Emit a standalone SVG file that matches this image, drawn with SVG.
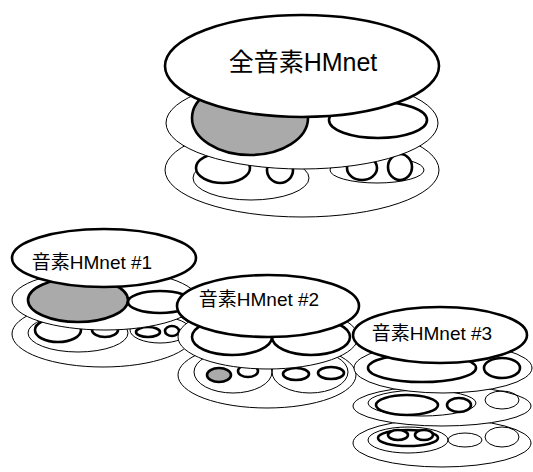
<svg xmlns="http://www.w3.org/2000/svg" width="533" height="472" viewBox="0 0 533 472">
<style>
.lay{fill:#fff;stroke:#000;stroke-width:1}
.in{fill:none;stroke:#000;stroke-width:1}
.tk{fill:#fff;stroke:#000;stroke-width:2.6}
.sh{fill:#aaaaaa;stroke:#000;stroke-width:2.6}
.top{fill:#fff;stroke:#000;stroke-width:2.6}
.lbl{font-family:"Liberation Sans","Noto Sans CJK JP",sans-serif;fill:#000;text-anchor:middle}
</style>
<rect width="533" height="472" fill="#fff"/>

<g id="all-hmnet">
  <ellipse class="lay" cx="302" cy="170" rx="137" ry="47"/>
  <ellipse class="in" cx="251" cy="178" rx="58" ry="22"/>
  <ellipse class="in" cx="377" cy="170" rx="47" ry="13"/>
  <ellipse class="tk" cx="223" cy="168" rx="27" ry="15"/>
  <ellipse class="tk" cx="280" cy="170" rx="13" ry="13"/>
  <ellipse class="tk" cx="362" cy="168" rx="15" ry="12"/>
  <ellipse class="tk" cx="400" cy="167" rx="12" ry="13"/>
  <ellipse class="lay" cx="302" cy="123" rx="136" ry="46"/>
  <ellipse class="sh" cx="250" cy="118" rx="58" ry="37"/>
  <ellipse class="tk" cx="378" cy="120" rx="49" ry="18"/>
  <ellipse class="top" cx="302" cy="66" rx="137" ry="51"/>
  <text class="lbl" x="303" y="71" font-size="25">全音素HMnet</text>
</g>

<g id="hmnet-1">
  <ellipse class="lay" cx="103" cy="334" rx="91" ry="33"/>
  <ellipse class="in" cx="78" cy="333" rx="50" ry="19"/>
  <ellipse class="in" cx="160" cy="330" rx="30" ry="13"/>
  <ellipse class="tk" cx="58" cy="330" rx="23" ry="12"/>
  <ellipse class="tk" cx="105" cy="330" rx="13" ry="7"/>
  <ellipse class="tk" cx="148" cy="332" rx="12" ry="5"/>
  <ellipse class="tk" cx="172" cy="331" rx="7" ry="5"/>
  <ellipse class="lay" cx="105" cy="300" rx="93" ry="30"/>
  <ellipse class="sh" cx="78" cy="300" rx="50" ry="22"/>
  <ellipse class="tk" cx="160" cy="302" rx="32" ry="11"/>
  <ellipse class="top" cx="104" cy="258" rx="92" ry="29"/>
  <text class="lbl" x="92" y="269" font-size="19">音素HMnet #1</text>
</g>

<g id="hmnet-2">
  <ellipse class="lay" cx="267" cy="375" rx="89" ry="33"/>
  <ellipse class="in" cx="233" cy="372" rx="39" ry="21"/>
  <ellipse class="in" cx="310" cy="372" rx="38" ry="21"/>
  <ellipse class="sh" cx="219" cy="375" rx="12" ry="7"/>
  <ellipse class="tk" cx="248" cy="371" rx="10" ry="6"/>
  <ellipse class="tk" cx="296" cy="374" rx="13" ry="6"/>
  <ellipse class="tk" cx="331" cy="373" rx="13" ry="6"/>
  <ellipse class="lay" cx="268" cy="337" rx="90" ry="32"/>
  <ellipse class="tk" cx="232" cy="337" rx="40" ry="18"/>
  <ellipse class="tk" cx="311" cy="337" rx="39" ry="18"/>
  <ellipse class="top" cx="268" cy="306" rx="91" ry="31"/>
  <text class="lbl" x="259" y="306" font-size="19">音素HMnet #2</text>
</g>

<g id="hmnet-3">
  <ellipse class="lay" cx="442" cy="443" rx="89" ry="24"/>
  <ellipse class="in" cx="408" cy="440" rx="40" ry="13"/>
  <ellipse class="in" cx="465" cy="440" rx="17" ry="7"/>
  <ellipse class="in" cx="502" cy="437" rx="17" ry="10"/>
  <ellipse class="tk" cx="408" cy="438" rx="30" ry="8"/>
  <ellipse class="tk" cx="398" cy="435" rx="10" ry="5"/>
  <ellipse class="tk" cx="424" cy="435" rx="9" ry="5"/>
  <ellipse class="lay" cx="442" cy="406" rx="89" ry="20"/>
  <ellipse class="in" cx="422" cy="403" rx="54" ry="13"/>
  <ellipse class="in" cx="502" cy="400" rx="17" ry="9"/>
  <ellipse class="tk" cx="407" cy="405" rx="31" ry="10"/>
  <ellipse class="tk" cx="459" cy="405" rx="12" ry="7"/>
  <ellipse class="lay" cx="443" cy="368" rx="89" ry="25"/>
  <ellipse class="tk" cx="422" cy="368" rx="54" ry="14"/>
  <ellipse class="tk" cx="502" cy="368" rx="18" ry="10"/>
  <ellipse class="top" cx="440" cy="335" rx="87" ry="28"/>
  <text class="lbl" x="432" y="340" font-size="19">音素HMnet #3</text>
</g>
</svg>
